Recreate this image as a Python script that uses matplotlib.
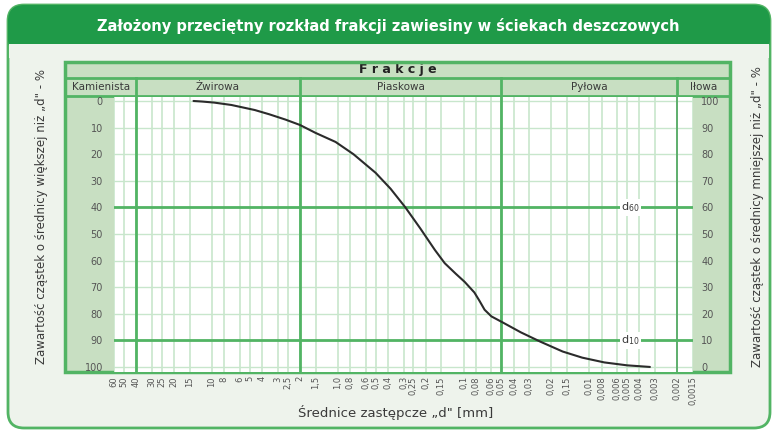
import matplotlib
matplotlib.use("Agg")
import matplotlib.pyplot as plt
from matplotlib.patches import FancyBboxPatch, Rectangle
import numpy as np

# srednice zastepcze [mm] i zawartosc czastek wiekszych [%]
d_mm = [14.0, 12.0, 9.6, 7.0, 4.56, 3.5, 2.6, 2.0, 1.5, 1.04, 0.75, 0.5, 0.38,
        0.29, 0.22, 0.169, 0.141, 0.115, 0.098, 0.082, 0.075, 0.068, 0.06, 0.05,
        0.035, 0.0245, 0.0163, 0.0114, 0.0076, 0.005, 0.0033]
pct_wieksze = [0, 0.2, 0.6, 1.5, 3.4, 5, 7, 9, 12, 15.4, 20, 27, 33,
               40, 48, 56, 61, 65, 68, 72, 75, 78.5, 81, 83,
               87, 90.5, 94.2, 96.5, 98.3, 99.4, 100]

x_ticks = [60, 50, 40, 30, 25, 20, 15, 10, 8, 6, 5, 4, 3, 2.5, 2,
           1.5, 1.0, 0.8, 0.6, 0.5, 0.4, 0.3, 0.25, 0.2, 0.15, 0.1, 0.08, 0.06, 0.05,
           0.04, 0.03, 0.02, 0.015, 0.01, 0.008, 0.006, 0.005, 0.004, 0.003,
           0.002, 0.0015]
x_labels = ["60", "50", "40", "30", "25", "20", "15", "10", "8", "6", "5", "4", "3", "2,5", "2",
            "1,5", "1,0", "0,8", "0,6", "0,5", "0,4", "0,3", "0,25", "0,2", "0,15", "0,1", "0,08", "0,06", "0,05",
            "0,04", "0,03", "0,02", "0,15", "0,01", "0,008", "0,006", "0,005", "0,004", "0,003",
            "0,002", "0,0015"]
granice = [40, 2, 0.05, 0.002]
frakcje = ["Kamienista", "Żwirowa", "Piaskowa", "Pyłowa", "Iłowa"]
y_ticks = list(range(0, 101, 10))

green_dark = "#1f9a48"
green_line = "#52b464"
green_light = "#c8e6cc"
header_fill = "#c8dfc2"
panel_bg = "#eef3ec"
txt = "#3a3a3a"

W, H = 776, 432
fig = plt.figure(figsize=(W / 100, H / 100), dpi=100)

# tlo w pikselach
bg = fig.add_axes([0, 0, 1, 1])
bg.set_xlim(0, W)
bg.set_ylim(H, 0)
bg.axis("off")

bg.add_patch(FancyBboxPatch((8, 5), 762, 423, boxstyle="round,pad=0,rounding_size=16",
                            facecolor=panel_bg, edgecolor=green_line, lw=2))
bg.add_patch(FancyBboxPatch((8, 5), 762, 50, boxstyle="round,pad=0,rounding_size=16",
                            facecolor=green_dark, edgecolor="none"))
bg.add_patch(Rectangle((9, 44), 760, 14, facecolor=panel_bg, edgecolor="none"))
bg.text(388, 26, "Założony przeciętny rozkład frakcji zawiesiny w ściekach deszczowych",
        color="white", fontsize=10.5, fontweight="bold", ha="center", va="center")

# ramka wykresu
L, R, T, B = 65, 730, 62, 372
pl, pr, pt = 114, 693, 97
bg.add_patch(Rectangle((L, T), R - L, 34, facecolor=header_fill, edgecolor="none"))
bg.add_patch(Rectangle((L, 96), pl - L, B - 96, facecolor=header_fill, edgecolor="none"))
bg.add_patch(Rectangle((pr, 96), R - pr, B - 96, facecolor=header_fill, edgecolor="none"))
bg.plot([L, R], [78, 78], color=green_line, lw=2)
bg.plot([L, R], [96, 96], color=green_line, lw=2)
bg.text((L + R) / 2, 70, "F r a k c j e", fontsize=9, fontweight="bold", color="#222",
        ha="center", va="center")

# os glowna
ax = fig.add_axes([pl / W, 1 - B / H, (pr - pl) / W, (B - pt) / H])
ax.set_xscale("log")
ax.set_xlim(60, 0.0015)
ax.set_ylim(101.9, -1.5)
ax.set_facecolor("white")
for s in ax.spines.values():
    s.set_visible(False)

for xt in x_ticks:
    ax.axvline(xt, color=green_light, lw=1.2, zorder=1)
for yt in y_ticks:
    ax.axhline(yt, color=green_light, lw=1.0, zorder=1)
for g in granice[:3]:
    ax.axvline(g, color=green_line, lw=2, zorder=2)
ax.axvline(granice[3], color="#3f9f52", lw=1.1, zorder=2)
ax.axhline(40, color=green_line, lw=2, zorder=2)
ax.axhline(90, color=green_line, lw=2, zorder=2)
ax.text(0.0047, 40, "d$_{60}$", fontsize=8, color=txt, ha="center", va="center", zorder=3,
        bbox=dict(facecolor="white", edgecolor="none", pad=1))
ax.text(0.0047, 90, "d$_{10}$", fontsize=8, color=txt, ha="center", va="center", zorder=3,
        bbox=dict(facecolor="white", edgecolor="none", pad=1))

ax.plot(d_mm, pct_wieksze, color="#2b2b2b", lw=1.5, zorder=4,
        solid_joinstyle="round", solid_capstyle="round")

ax.set_xticks(x_ticks)
ax.set_xticklabels(x_labels, rotation=90, fontsize=6, color="#555")
ax.xaxis.set_minor_locator(matplotlib.ticker.NullLocator())
ax.tick_params(axis="x", length=0, pad=3)
ax.set_yticks(y_ticks)
ax.set_yticklabels([str(v) for v in y_ticks], fontsize=7, color="#555")
ax.tick_params(axis="y", length=0, pad=8)

ax2 = ax.twinx()
ax2.set_ylim(100 - 101.9, 100 + 1.5)
ax2.set_yticks(y_ticks)
ax2.set_yticklabels([str(v) for v in y_ticks], fontsize=7, color="#555")
ax2.tick_params(axis="y", length=0, pad=6)
for s in ax2.spines.values():
    s.set_visible(False)

# podzial frakcji w naglowku (pozycje z osi logarytmicznej)
to_px = lambda xv: bg.transData.inverted().transform(ax.transData.transform((xv, 0)))[0]
edges = [L] + [to_px(g) for g in granice] + [R]
for e in edges[1:-1]:
    bg.plot([e, e], [78, 96], color=green_line, lw=2)
for i, name in enumerate(frakcje):
    bg.text((edges[i] + edges[i + 1]) / 2, 87.5, name, fontsize=7.5, color=txt,
            ha="center", va="center")

bg.add_patch(Rectangle((L, T), R - L, B - T, facecolor="none", edgecolor=green_line, lw=2.5, zorder=5))

bg.text(42, 217, "Zawartość cząstek o średnicy większej niż „d\" - %", rotation=90,
        fontsize=8.5, color=txt, ha="center", va="center")
bg.text(757, 217, "Zawartość cząstek o średnicy mniejszej niż „d\" - %", rotation=90,
        fontsize=8.5, color=txt, ha="center", va="center")
bg.text(396, 412, "Średnice zastępcze „d\" [mm]", fontsize=9.5, color=txt,
        ha="center", va="center")

fig.savefig("out.png", dpi=100)
